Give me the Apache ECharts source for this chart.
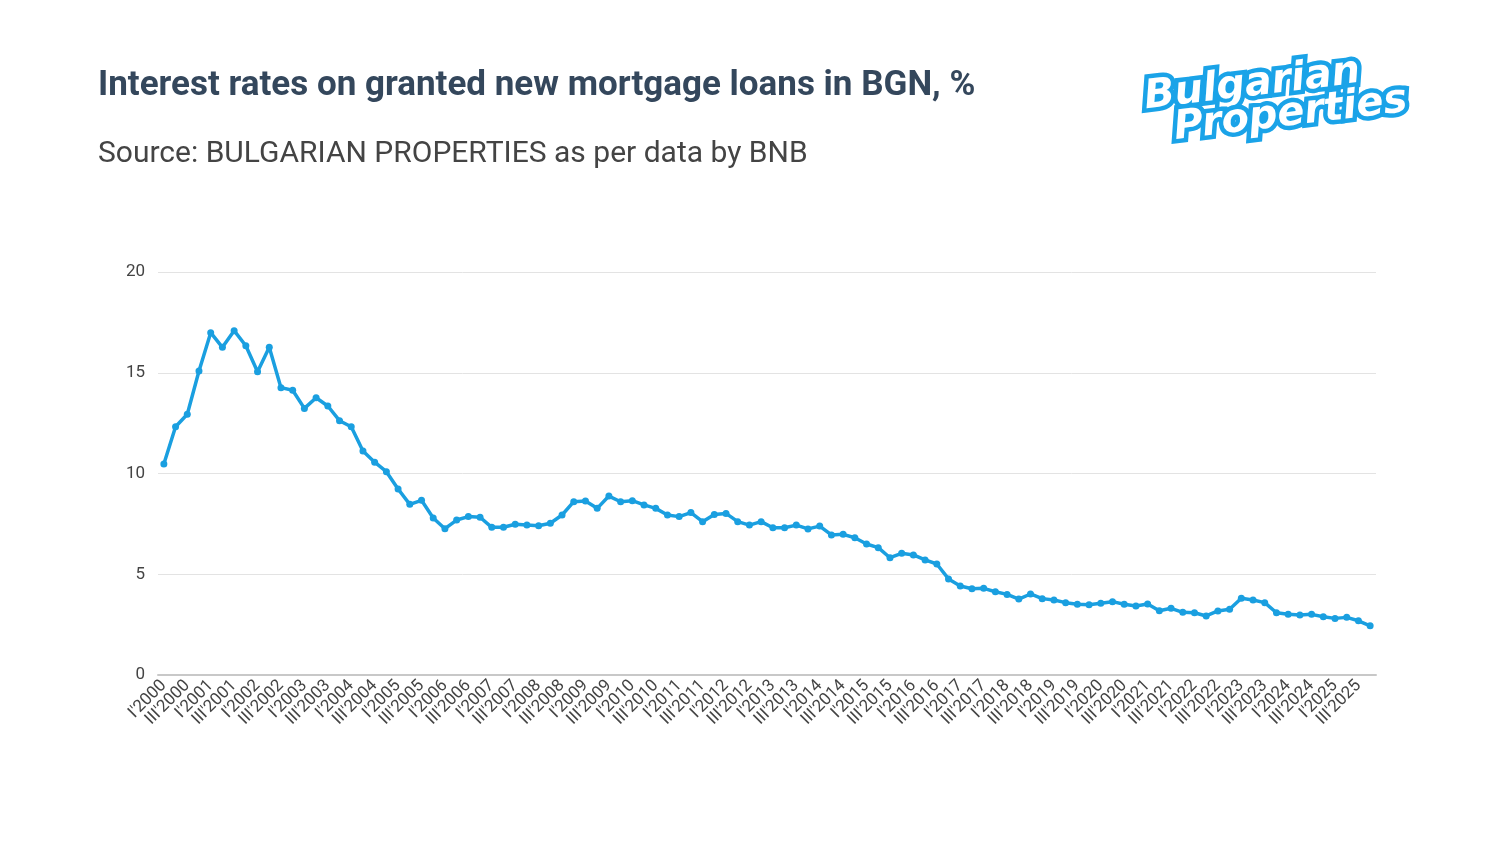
<!DOCTYPE html>
<html lang="en" style="height: 100%">
<head>
    <meta charset="utf-8">
</head>
<body style="height: 100%; margin: 0; background: #fff">
    <div id="container" style="width: 1500px; height: 844px"></div>
    <script type="text/javascript" src="https://fastly.jsdelivr.net/npm/echarts@6.0.0/dist/echarts.min.js"></script>
    <script type="text/javascript">
    // quarters I'2000 .. IV'2025
    const years = [2000, 2001, 2002, 2003, 2004, 2005, 2006, 2007, 2008, 2009, 2010, 2011, 2012,
        2013, 2014, 2015, 2016, 2017, 2018, 2019, 2020, 2021, 2022, 2023, 2024, 2025];
    const quarters = ['I', 'II', 'III', 'IV'];

    const rates = [
        10.47, 12.32, 12.94, 15.09, 16.99, 16.26, 17.09, 16.34, 15.05, 16.26,
        14.26, 14.13, 13.23, 13.76, 13.35, 12.62, 12.32, 11.12, 10.56, 10.09,
        9.23, 8.47, 8.67, 7.79, 7.26, 7.69, 7.86, 7.83,
        7.33, 7.33, 7.48, 7.44, 7.41, 7.53, 7.94, 8.60, 8.63, 8.27,
        8.88, 8.60, 8.65, 8.44, 8.27, 7.94, 7.86, 8.06, 7.61, 7.97,
        8.02, 7.61, 7.44, 7.61, 7.31, 7.31, 7.44,
        7.25, 7.39, 6.95, 6.98, 6.81, 6.50, 6.32, 5.82, 6.04, 5.96,
        5.71, 5.51, 4.77, 4.42, 4.28, 4.30, 4.13, 4.00, 3.77, 4.02,
        3.79, 3.72, 3.59, 3.51, 3.49,
        3.56, 3.64, 3.51, 3.42, 3.52, 3.19, 3.31, 3.11, 3.09, 2.93,
        3.18, 3.26, 3.81, 3.72, 3.59, 3.09, 3.01, 2.98, 3.01, 2.89,
        2.81, 2.86, 2.69, 2.44
    ];

    const titleText = 'Interest rates on granted new mortgage loans in BGN, %';
    const subText = 'Source: BULGARIAN PROPERTIES as per data by BNB';

    let categories = [];
    years.forEach(y => {
        quarters.forEach(q => categories.push(q + "'" + y));
    });

    var dom = document.getElementById('container');
    var myChart = echarts.init(dom, null, { renderer: 'canvas' });
    var option;

    const lineColor = '#1a9fe0';

    option = {
        animation: false,
        backgroundColor: '#fff',
        textStyle: { fontFamily: 'Roboto' },
        title: {
            text: titleText,
            subtext: subText,
            left: 93,
            top: 64,
            itemGap: 35,
            textStyle: {
                fontFamily: 'Roboto',
                fontWeight: 'bold',
                fontSize: 35,
                color: '#34475c'
            },
            subtextStyle: {
                fontFamily: 'Roboto',
                fontSize: 30,
                color: '#444'
            }
        },
        graphic: [{
            type: 'group',
            left: 1137,
            top: 42,
            rotation: 0.12,
            children: [{
                type: 'text',
                x: 0,
                y: 0,
                style: {
                    text: 'Bulgarian',
                    font: 'italic 900 40px "DejaVu Sans"',
                    fill: '#fff',
                    stroke: '#1aa3e8',
                    lineWidth: 9
                }
            }, {
                type: 'text',
                x: 26,
                y: 34,
                style: {
                    text: 'Properties',
                    font: 'italic 900 40px "DejaVu Sans"',
                    fill: '#fff',
                    stroke: '#1aa3e8',
                    lineWidth: 9
                }
            }]
        }],
        grid: {
            left: 158,
            right: 124,
            top: 272,
            bottom: 169,
            containLabel: false
        },
        xAxis: {
            type: 'category',
            data: categories,
            boundaryGap: true,
            axisLine: { lineStyle: { color: '#c8c8c8', width: 2 } },
            axisTick: { show: false },
            axisLabel: {
                interval: 0,
                rotate: 45,
                fontSize: 17,
                color: '#444',
                margin: 8,
                // only every second quarter is labelled (I and III)
                formatter: (value, index) => (index % 2 === 0 ? value : '')
            }
        },
        yAxis: {
            type: 'value',
            min: 0,
            max: 20,
            interval: 5,
            axisLine: { show: false },
            axisTick: { show: false },
            axisLabel: { fontSize: 17, color: '#444', margin: 13 },
            splitLine: { lineStyle: { color: '#e3e3e3', width: 1 } }
        },
        series: [{
            name: 'Interest rate',
            type: 'line',
            data: rates,
            symbol: 'circle',
            symbolSize: 7,
            lineStyle: { color: lineColor, width: 3.5 },
            itemStyle: { color: lineColor }
        }]
    };

    myChart.setOption(option);
    window.addEventListener('resize', myChart.resize);
    </script>
</body>
</html>
